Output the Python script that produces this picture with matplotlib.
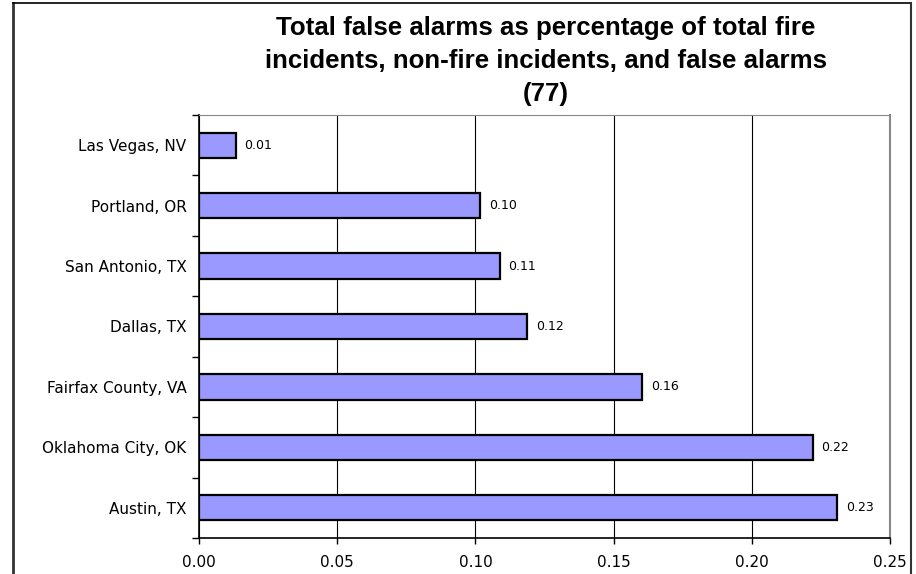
import matplotlib
matplotlib.use("Agg")
import matplotlib.pyplot as plt
from matplotlib.lines import Line2D
import numpy as np

plt.rcParams['font.family'] = ['Liberation Sans', 'DejaVu Sans']

cities = ["Las Vegas, NV", "Portland, OR", "San Antonio, TX", "Dallas, TX",
          "Fairfax County, VA", "Oklahoma City, OK", "Austin, TX"]
values = [0.0134, 0.1018, 0.1089, 0.1188, 0.1604, 0.2222, 0.2310]
xticks = [0.00, 0.05, 0.10, 0.15, 0.20, 0.25]

fig = plt.figure(figsize=(9.16, 5.74), dpi=100)
ax = fig.add_axes([199/916, 1 - 538/574, 691/916, 423/574])

y = np.arange(len(cities))
ax.barh(y, values, height=0.42, color='#9999FF', edgecolor='black', linewidth=1.6, zorder=3)
for yi, v in zip(y, values):
    ax.text(v + 0.003, yi, f"{v:.2f}", va='center', ha='left', fontsize=9,
            family='DejaVu Sans')

ax.set_ylim(len(cities) - 0.5, -0.5)
ax.set_xlim(0, 0.25)
ax.set_yticks(y)
ax.set_yticklabels(cities, fontsize=11, family='DejaVu Sans')
ax.set_yticks(np.arange(-0.5, len(cities), 1), minor=True)
ax.tick_params(axis='y', which='major', length=0, pad=9)
ax.tick_params(axis='y', which='minor', length=5, width=1, direction='out')
ax.set_xticks(xticks)
ax.set_xticklabels([f"{t:.2f}" for t in xticks], fontsize=11, family='DejaVu Sans')
ax.tick_params(axis='x', length=4, width=1, direction='out', pad=8)
ax.xaxis.grid(True, color='black', linewidth=0.8, zorder=0)

ax.spines['left'].set_linewidth(1.2)
ax.spines['bottom'].set_linewidth(1.2)
ax.spines['top'].set_color('#888888')
ax.spines['right'].set_color('#888888')
ax.spines['right'].set_linewidth(1.5)

fig.text(546/916, 1 - 61/574,
         "Total false alarms as percentage of total fire\nincidents, non-fire incidents, and false alarms\n(77)",
         ha='center', va='center', fontsize=18.6, fontweight='bold', linespacing=1.48)

# outer chart border
fig.add_artist(Line2D([13/916, 13/916], [0, 1 - 3/574], color='#333333', linewidth=2))
fig.add_artist(Line2D([13/916, 911/916], [1 - 3/574, 1 - 3/574], color='black', linewidth=1.2))
fig.add_artist(Line2D([911/916, 911/916], [0, 1 - 3/574], color='#333333', linewidth=1.5))

fig.savefig("out.png", dpi=100)
